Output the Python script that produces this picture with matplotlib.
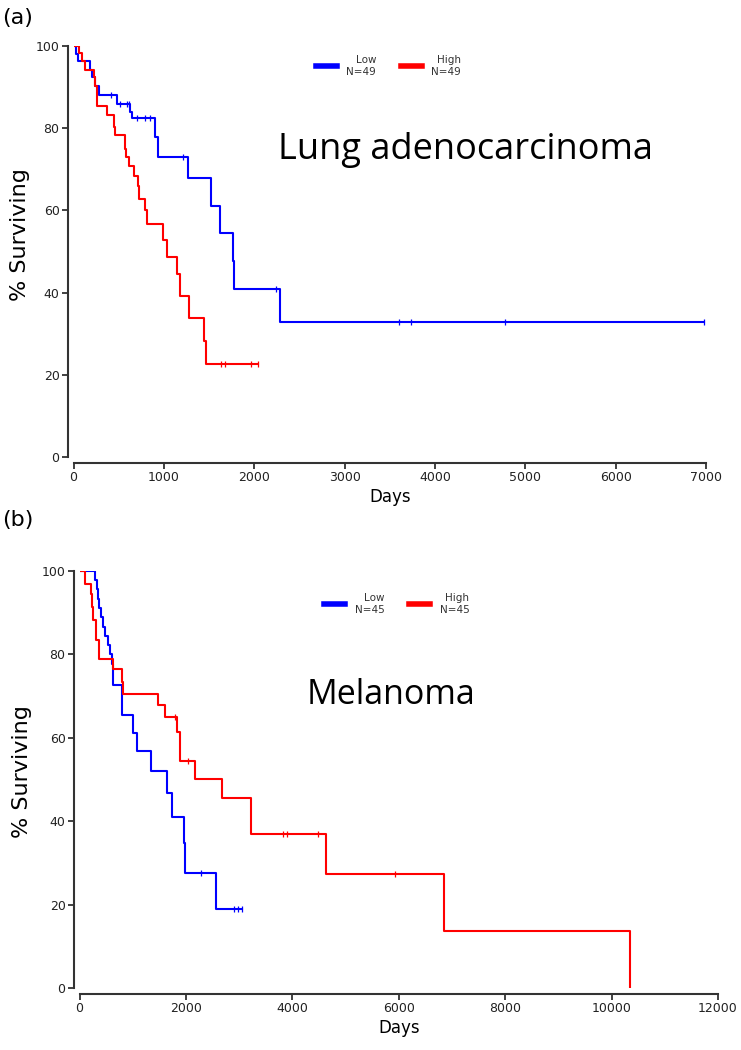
import numpy as np
import matplotlib.pyplot as plt

# (a) Lung adenocarcinoma -- Kaplan-Meier steps (days, % surviving)
lung_low_t = [0, 25, 50, 187, 205, 240, 278, 480, 620, 645, 902, 939, 1269,
              1525, 1617, 1760, 1775, 2285, 6980]
lung_low_s = [100, 98, 96.3, 94.2, 92.4, 90.2, 88.0, 86.0, 84.0, 82.4, 77.8,
              72.9, 67.8, 61.0, 54.6, 47.6, 40.9, 32.8, 32.8]
lung_low_cens = [420, 510, 590, 610, 700, 790, 845, 1214, 2240, 3600, 3740,
                 4770, 6980]

lung_high_t = [0, 59, 95, 132, 223, 242, 255, 260, 370, 443, 460, 572, 580,
               609, 664, 718, 725, 792, 818, 986, 1030, 1147, 1177, 1276,
               1441, 1470, 2046]
lung_high_s = [100, 98.3, 96.3, 94.2, 92.4, 90.3, 87.8, 85.4, 83.2, 80.2,
               78.3, 74.9, 72.9, 70.8, 68.4, 66.0, 62.7, 60.2, 56.6, 52.9,
               48.7, 44.4, 39.1, 33.7, 28.1, 22.6, 22.6]
lung_high_cens = [1630, 1672, 1966, 2046]

# (b) Melanoma
mel_low_t = [0, 291, 320, 350, 370, 398, 448, 480, 542, 575, 605, 624, 636,
             793, 1006, 1075, 1338, 1639, 1733, 1965, 1983, 2566, 3049]
mel_low_s = [100, 97.8, 95.6, 93.3, 91.1, 88.9, 86.7, 84.4, 82.2, 80.0, 77.8,
             75.6, 72.7, 65.5, 61.2, 56.9, 52.1, 46.7, 41.1, 34.7, 27.7,
             19.0, 19.0]
mel_low_cens = [2284, 2900, 2980, 3049]

mel_high_t = [0, 110, 210, 240, 260, 310, 373, 624, 800, 824, 1470, 1600,
              1840, 1880, 2171, 2673, 3218, 4634, 6853, 10350]
mel_high_s = [100, 97.0, 94.6, 91.4, 88.2, 83.4, 79.0, 76.4, 73.5, 70.6,
              67.8, 65.0, 61.4, 54.4, 50.2, 45.7, 36.9, 27.3, 13.6, 0]
mel_high_cens = [1800, 2030, 3830, 3900, 4480, 5930]

BLUE = "#0000ff"
RED = "#ff0000"
SPINE = "#333333"


def level(t, s, c):
    idx = np.searchsorted(t, c, side="right") - 1
    return np.asarray(s)[idx]


def km_plot(ax, t, s, cens, color, label):
    ax.step(t, s, where="post", color=color, linewidth=1.5, label=label)
    ax.plot(cens, level(t, s, cens), linestyle="none", marker="|",
            markersize=5, markeredgewidth=0.9, color=color)


def style_axis(ax, xmax, xstep, ylab_xy):
    ax.set_xlim(0, xmax)
    ax.set_ylim(0, 100)
    ax.set_xticks(np.arange(0, xmax + 1, xstep))
    ax.set_yticks(np.arange(0, 101, 20))
    for side in ("top", "right"):
        ax.spines[side].set_visible(False)
    for side in ("left", "bottom"):
        ax.spines[side].set_position(("outward", 4))
        ax.spines[side].set_color(SPINE)
        ax.spines[side].set_linewidth(1.5)
    ax.tick_params(axis="both", labelsize=9, length=4, width=1.3,
                   color=SPINE, labelcolor="#222222", pad=2)
    ax.set_xlabel("Days", fontsize=12, labelpad=3)
    ax.set_ylabel("% Surviving", fontsize=16)
    ax.yaxis.set_label_coords(*ylab_xy)


fig = plt.figure(figsize=(7.41, 10.5), dpi=100)

ax1 = fig.add_axes([0.0992, 0.5648, 0.8536, 0.3914])
km_plot(ax1, lung_low_t, lung_low_s, lung_low_cens, BLUE, "Low\nN=49")
km_plot(ax1, lung_high_t, lung_high_s, lung_high_cens, RED, "High\nN=49")
style_axis(ax1, 7000, 1000, (-0.069, 0.54))
ax1.text(0.62, 0.747, "Lung adenocarcinoma", transform=ax1.transAxes,
         fontsize=26, family="Open Sans", ha="center", va="center")

ax2 = fig.add_axes([0.1073, 0.059, 0.8617, 0.3971])
km_plot(ax2, mel_low_t, mel_low_s, mel_low_cens, BLUE, "Low\nN=45")
km_plot(ax2, mel_high_t, mel_high_s, mel_high_cens, RED, "High\nN=45")
style_axis(ax2, 12000, 2000, (-0.075, 0.52))
ax2.text(0.488, 0.703, "Melanoma", transform=ax2.transAxes,
         fontsize=24.5, family="Open Sans", ha="center", va="center")

for ax, anchor in ((ax1, (0.498, 0.951)), (ax2, (0.497, 0.921))):
    leg = ax.legend(loc="center", bbox_to_anchor=anchor, ncol=2,
                    frameon=False, fontsize=7.5, handlelength=2.0,
                    columnspacing=2.4, handletextpad=0.9)
    for line in leg.get_lines():
        line.set_linewidth(4)
    for txt in leg.get_texts():
        txt.set_multialignment("right")
        txt.set_color("#333333")

fig.text(0.003, 0.983, "(a)", fontsize=16, ha="left", va="center")
fig.text(0.003, 0.505, "(b)", fontsize=16, ha="left", va="center")

fig.savefig("out.png", dpi=100)
